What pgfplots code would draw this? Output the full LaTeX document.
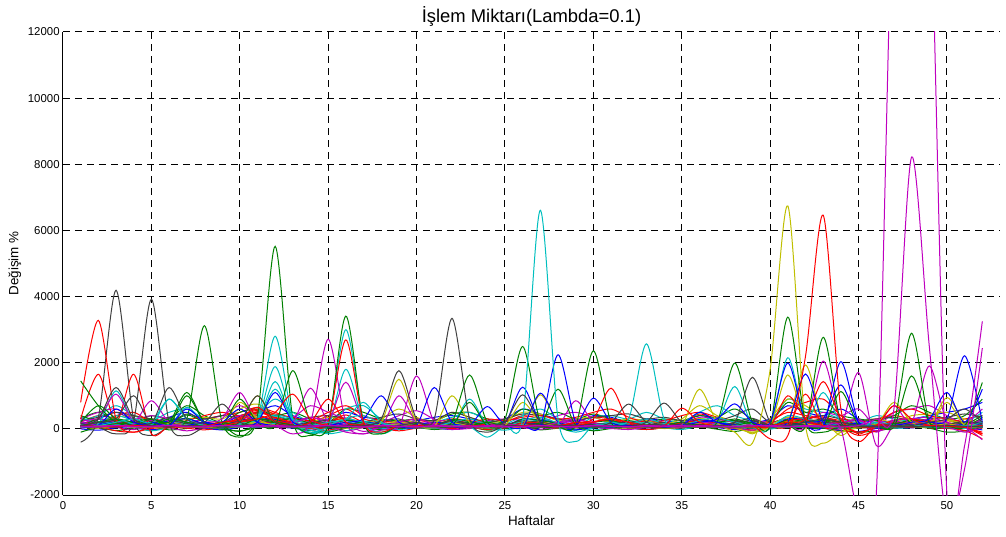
\documentclass[border=0pt]{standalone}
\usepackage{pgfplots}
\pgfplotsset{compat=1.18}
\usepackage{fontspec}
\setmainfont{Liberation Sans}

% MATLAB default line colours
\definecolor{mb}{rgb}{0,0,1}
\definecolor{mg}{rgb}{0,0.5,0}
\definecolor{mr}{rgb}{1,0,0}
\definecolor{mc}{rgb}{0,0.75,0.75}
\definecolor{mm}{rgb}{0.75,0,0.75}
\definecolor{my}{rgb}{0.75,0.75,0}
\definecolor{mk}{rgb}{0.25,0.25,0.25}

% one series per inline table: weekly values, week = row number
\pgfplotsset{/pgfplots/table/wk/.style={row sep=\\,header=false,x expr=\coordindex+1,y index=0}}

\begin{document}
\begin{tikzpicture}
\path[use as bounding box] (-31.5pt,-20.5pt) rectangle (471.5pt,247.5pt);
\begin{axis}[
  at={(0,0)}, anchor=south west,
  scale only axis, width=468.5pt, height=231.5pt,
  xmin=0, xmax=53, ymin=-2000, ymax=12000,
  axis x line*=bottom, axis y line*=left,
  axis line style={black, line width=0.5pt},
  xtick={0,5,...,50}, ytick={-2000,0,2000,4000,6000,8000,10000,12000},
  tick align=inside, major tick length=3pt, tick style={black, line width=0.5pt},
  grid=major, major grid style={black, line width=0.5pt, dash pattern=on 3.5pt off 2.5pt},
  scaled y ticks=false,
  tick label style={font=\fontsize{5.7}{6}\selectfont, /pgf/number format/assume math mode=true, /pgf/number format/1000 sep={}},
  xticklabel style={anchor=north, inner sep=0pt, yshift=-2.95pt},
  yticklabel style={anchor=east, inner sep=0pt, xshift=-1.5pt},
  title={İşlem Miktarı(Lambda=0.1)},
  every axis title/.style={font=\fontsize{9.2}{11}\selectfont, at={(axis description cs:0.5,1)}, anchor=base, yshift=4.65pt, inner sep=0pt},
  xlabel={Haftalar},
  xlabel style={font=\fontsize{6.7}{8}\selectfont, at={([yshift=-15.4pt]axis description cs:0.5,0)}, anchor=base, inner sep=0pt},
  ylabel={Değişim \%},
  ylabel style={font=\fontsize{6.7}{8}\selectfont, at={([xshift=-22.25pt]axis description cs:0,0.5)}, anchor=base, inner sep=0pt},
  every axis plot/.append style={line width=0.5pt, smooth, mark=none},
]
% ---- mid-level weekly series ----
\addplot[mr] table[wk]{200\\400\\300\\150\\300\\200\\150\\300\\400\\500\\650\\500\\300\\200\\400\\600\\300\\200\\150\\250\\200\\300\\250\\150\\200\\400\\300\\200\\250\\350\\300\\200\\250\\150\\200\\450\\300\\200\\150\\250\\500\\400\\350\\250\\200\\300\\400\\300\\250\\200\\300\\400\\};
\addplot[mb] table[wk]{150\\300\\500\\250\\200\\350\\500\\200\\150\\400\\500\\700\\400\\250\\300\\500\\350\\300\\200\\250\\350\\400\\300\\200\\300\\600\\450\\300\\200\\400\\350\\200\\300\\250\\200\\400\\300\\250\\200\\300\\700\\500\\400\\600\\300\\200\\250\\300\\400\\500\\600\\800\\};
\addplot[mg] table[wk]{300\\500\\250\\200\\400\\300\\700\\400\\200\\500\\600\\400\\500\\300\\200\\600\\500\\300\\250\\300\\250\\450\\500\\300\\200\\600\\400\\500\\300\\450\\300\\250\\200\\300\\250\\400\\350\\600\\300\\200\\800\\500\\600\\400\\300\\250\\400\\700\\500\\300\\400\\900\\};
\addplot[mc] table[wk]{250\\400\\700\\400\\250\\500\\600\\300\\200\\300\\450\\900\\500\\200\\100\\600\\700\\300\\200\\150\\200\\350\\500\\250\\150\\400\\600\\300\\100\\350\\400\\300\\500\\300\\200\\500\\700\\400\\250\\200\\900\\600\\500\\300\\200\\400\\300\\250\\400\\300\\200\\500\\};
\addplot[mm] table[wk]{300\\500\\600\\300\\400\\300\\200\\300\\400\\700\\400\\300\\350\\700\\500\\300\\150\\200\\400\\550\\300\\200\\150\\250\\300\\250\\200\\400\\500\\350\\200\\150\\250\\200\\150\\350\\300\\200\\250\\200\\300\\250\\500\\400\\600\\100\\500\\600\\700\\400\\200\\600\\};
\addplot[my] table[wk]{150\\200\\350\\400\\250\\200\\300\\350\\300\\600\\750\\400\\250\\200\\350\\250\\200\\300\\600\\350\\200\\500\\350\\200\\250\\500\\450\\250\\300\\350\\200\\300\\250\\150\\300\\700\\400\\200\\-150\\300\\900\\700\\300\\-200\\200\\300\\200\\400\\450\\500\\300\\200\\};
\addplot[mk] table[wk]{250\\350\\500\\400\\300\\200\\450\\300\\400\\350\\500\\400\\250\\350\\400\\300\\200\\350\\450\\300\\250\\500\\350\\200\\300\\450\\400\\300\\250\\350\\400\\450\\300\\350\\250\\300\\250\\400\\600\\200\\350\\300\\400\\300\\250\\300\\350\\250\\300\\350\\450\\350\\};
\addplot[mr] table[wk]{100\\200\\400\\500\\200\\150\\250\\400\\500\\400\\600\\450\\350\\250\\500\\700\\400\\250\\200\\300\\150\\250\\200\\300\\250\\350\\400\\300\\350\\500\\600\\350\\200\\250\\400\\500\\350\\200\\150\\200\\600\\800\\900\\400\\100\\200\\500\\600\\400\\300\\200\\100\\};
% ---- low-level weekly series ----
\addplot[mb] table[wk]{60\\120\\90\\200\\150\\80\\110\\60\\140\\220\\180\\120\\90\\60\\150\\100\\70\\130\\80\\60\\90\\150\\110\\70\\60\\120\\180\\90\\60\\40\\80\\120\\60\\90\\150\\200\\110\\70\\50\\90\\160\\120\\80\\140\\60\\90\\110\\70\\130\\90\\60\\150\\};
\addplot[mg] table[wk]{200\\90\\150\\60\\110\\180\\90\\40\\70\\130\\250\\160\\100\\220\\140\\60\\90\\40\\110\\60\\30\\80\\120\\90\\60\\180\\140\\70\\40\\90\\110\\60\\40\\80\\130\\250\\170\\120\\60\\20\\130\\180\\240\\150\\100\\60\\120\\180\\90\\60\\110\\300\\};
\addplot[mr] table[wk]{100\\300\\150\\80\\-50\\60\\120\\200\\140\\260\\480\\350\\200\\120\\90\\150\\80\\60\\100\\40\\60\\90\\140\\60\\30\\110\\150\\120\\80\\200\\260\\140\\60\\80\\120\\210\\130\\60\\80\\40\\180\\260\\220\\120\\-100\\40\\160\\200\\90\\70\\40\\-150\\};
\addplot[mc] table[wk]{350\\180\\260\\120\\70\\140\\210\\90\\60\\120\\200\\380\\260\\150\\-80\\110\\160\\90\\70\\60\\50\\130\\220\\100\\40\\180\\260\\140\\60\\-40\\90\\200\\150\\80\\40\\160\\220\\140\\90\\50\\210\\190\\150\\80\\200\\120\\60\\90\\140\\60\\80\\180\\};
\addplot[mm] table[wk]{150\\200\\120\\60\\260\\110\\80\\140\\90\\300\\160\\90\\120\\220\\160\\-60\\40\\110\\180\\140\\70\\90\\60\\130\\80\\100\\60\\200\\150\\100\\80\\60\\120\\90\\60\\170\\110\\70\\120\\90\\140\\80\\100\\60\\180\\-80\\220\\160\\300\\120\\60\\200\\};
\addplot[my] table[wk]{80\\60\\160\\220\\110\\60\\90\\180\\120\\300\\420\\200\\110\\90\\150\\80\\120\\60\\270\\180\\90\\220\\130\\60\\90\\160\\220\\110\\70\\90\\60\\120\\80\\40\\110\\230\\150\\60\\-120\\80\\260\\300\\180\\-60\\70\\120\\60\\140\\180\\260\\90\\60\\};
\addplot[mk] table[wk]{120\\150\\260\\180\\90\\40\\130\\80\\200\\160\\210\\140\\80\\150\\110\\60\\40\\120\\90\\70\\60\\110\\80\\50\\120\\170\\90\\60\\100\\140\\110\\150\\90\\60\\80\\140\\100\\180\\240\\60\\110\\80\\140\\90\\60\\130\\110\\60\\90\\150\\200\\120\\};
\addplot[mb] table[wk]{20\\80\\140\\60\\40\\90\\150\\60\\30\\80\\140\\210\\150\\90\\40\\60\\120\\160\\80\\50\\130\\90\\40\\60\\110\\190\\140\\80\\60\\120\\90\\40\\60\\110\\80\\260\\170\\90\\50\\40\\190\\130\\80\\160\\110\\40\\20\\60\\120\\80\\140\\220\\};
\addplot[mg] table[wk]{400\\220\\100\\150\\80\\200\\320\\120\\40\\200\\330\\240\\130\\80\\100\\260\\170\\90\\60\\120\\80\\140\\200\\110\\60\\220\\150\\90\\120\\70\\50\\90\\120\\80\\60\\140\\200\\260\\120\\30\\240\\170\\120\\200\\140\\90\\160\\220\\110\\60\\130\\400\\};
\addplot[mr] table[wk]{160\\100\\60\\120\\200\\140\\80\\60\\110\\350\\560\\300\\140\\60\\200\\330\\160\\80\\50\\90\\140\\80\\60\\100\\150\\90\\130\\80\\190\\140\\90\\60\\100\\150\\80\\180\\120\\90\\60\\110\\260\\350\\300\\170\\60\\120\\200\\150\\100\\70\\30\\-100\\};
\addplot[mc] table[wk]{60\\130\\220\\150\\90\\250\\140\\60\\80\\140\\180\\300\\150\\40\\-100\\160\\240\\110\\60\\80\\120\\160\\90\\60\\140\\110\\300\\130\\-50\\160\\140\\90\\200\\110\\60\\300\\190\\110\\80\\40\\360\\200\\130\\90\\60\\160\\120\\90\\130\\100\\60\\140\\};
\addplot[mm] table[wk]{300\\140\\80\\110\\160\\90\\140\\200\\80\\180\\140\\110\\200\\350\\190\\120\\-80\\60\\140\\200\\130\\60\\100\\90\\140\\80\\120\\160\\260\\180\\70\\120\\60\\90\\110\\160\\120\\80\\60\\130\\150\\110\\300\\200\\250\\60\\180\\140\\220\\110\\-60\\90\\};
\addplot[my] table[wk]{60\\110\\80\\130\\90\\160\\120\\80\\160\\240\\280\\190\\120\\80\\140\\90\\60\\110\\200\\130\\80\\170\\110\\70\\100\\220\\190\\80\\120\\150\\90\\60\\120\\80\\90\\320\\150\\70\\-60\\120\\350\\260\\120\\60\\90\\140\\120\\200\\160\\280\\150\\80\\};
\addplot[mk] table[wk]{90\\60\\130\\230\\110\\250\\160\\80\\120\\180\\260\\180\\100\\130\\200\\120\\80\\140\\160\\90\\110\\220\\120\\70\\80\\160\\130\\90\\70\\110\\200\\180\\100\\150\\90\\110\\70\\140\\260\\80\\120\\90\\180\\120\\70\\100\\160\\120\\80\\100\\180\\140\\};
\addplot[mb] table[wk]{180\\130\\200\\120\\150\\240\\300\\160\\110\\260\\330\\280\\180\\120\\90\\140\\200\\150\\90\\130\\200\\140\\90\\150\\100\\300\\260\\180\\110\\160\\90\\130\\80\\110\\160\\280\\190\\120\\90\\60\\300\\280\\200\\130\\160\\90\\70\\110\\190\\140\\110\\160\\};
\addplot[mg] table[wk]{50\\300\\180\\90\\60\\140\\420\\200\\60\\-80\\120\\200\\320\\160\\60\\110\\200\\90\\80\\160\\100\\280\\220\\90\\60\\300\\250\\170\\90\\200\\240\\130\\60\\90\\100\\200\\170\\300\\150\\40\\280\\220\\260\\200\\80\\110\\150\\260\\200\\60\\40\\350\\};
\addplot[mr] table[wk]{40\\90\\160\\210\\120\\80\\60\\140\\200\\260\\520\\330\\180\\100\\200\\420\\200\\90\\60\\120\\60\\100\\80\\140\\90\\170\\200\\120\\160\\220\\300\\130\\70\\110\\180\\250\\160\\80\\60\\70\\240\\310\\360\\190\\30\\80\\260\\300\\200\\120\\60\\-200\\};
\addplot[mc] table[wk]{120\\200\\400\\250\\120\\300\\200\\90\\60\\160\\250\\420\\300\\110\\-60\\300\\400\\160\\90\\60\\80\\200\\300\\140\\60\\250\\350\\170\\-30\\110\\200\\150\\300\\160\\60\\260\\330\\200\\120\\60\\400\\300\\200\\110\\60\\200\\130\\100\\200\\140\\70\\200\\};
\addplot[mm] table[wk]{220\\300\\200\\90\\150\\110\\70\\130\\180\\400\\250\\140\\180\\330\\260\\120\\60\\90\\200\\300\\150\\80\\60\\110\\140\\100\\80\\200\\300\\160\\80\\60\\100\\70\\90\\200\\150\\90\\120\\80\\160\\140\\200\\160\\300\\-100\\260\\300\\350\\200\\80\\300\\};
\addplot[mk] table[wk]{160\\80\\200\\300\\160\\350\\200\\100\\140\\220\\300\\250\\130\\180\\260\\190\\120\\220\\300\\110\\90\\260\\150\\80\\130\\240\\200\\110\\90\\140\\160\\200\\120\\200\\100\\130\\90\\200\\320\\100\\170\\120\\200\\130\\90\\110\\150\\90\\110\\130\\220\\160\\};
\addplot[mb] table[wk]{0\\-40\\30\\60\\-20\\40\\90\\20\\-30\\50\\110\\60\\20\\-40\\30\\70\\40\\-10\\20\\50\\30\\-20\\40\\60\\10\\80\\60\\20\\-30\\40\\60\\20\\-10\\30\\60\\90\\40\\-20\\10\\30\\80\\50\\20\\-60\\-80\\10\\40\\30\\60\\40\\20\\-30\\};
\addplot[mg] table[wk]{-100\\30\\-50\\20\\60\\-30\\10\\80\\-20\\-60\\40\\80\\30\\-50\\-100\\20\\60\\-30\\10\\40\\-20\\30\\60\\-40\\10\\50\\-30\\20\\40\\-60\\10\\30\\-20\\40\\20\\60\\-10\\-80\\20\\10\\40\\80\\20\\-40\\-100\\-60\\30\\50\\20\\-100\\-60\\100\\};
\addplot[mr] table[wk]{30\\60\\-60\\-100\\10\\50\\20\\-30\\40\\90\\200\\150\\60\\10\\-40\\80\\120\\30\\-60\\20\\40\\10\\50\\-20\\30\\90\\60\\20\\40\\80\\100\\40\\-20\\30\\60\\110\\50\\10\\-30\\20\\120\\160\\100\\30\\-200\\-60\\40\\80\\30\\10\\-50\\-300\\};
\addplot[mc] table[wk]{100\\60\\120\\40\\-60\\30\\90\\40\\20\\60\\100\\160\\80\\-40\\-150\\-60\\60\\20\\-20\\30\\10\\50\\80\\20\\-40\\60\\100\\40\\-100\\30\\70\\40\\80\\30\\-20\\80\\120\\50\\20\\-10\\110\\90\\60\\20\\30\\60\\20\\40\\80\\30\\10\\60\\};
\addplot[mm] table[wk]{50\\90\\40\\-20\\60\\30\\-60\\20\\70\\130\\80\\40\\60\\120\\80\\-100\\-150\\-40\\60\\90\\40\\-20\\10\\50\\80\\30\\-10\\60\\100\\40\\10\\-20\\40\\20\\30\\90\\60\\10\\-40\\50\\70\\30\\100\\60\\110\\-60\\40\\90\\120\\60\\-100\\40\\};
\addplot[my] table[wk]{40\\20\\60\\90\\40\\30\\70\\100\\60\\150\\200\\110\\50\\30\\60\\20\\40\\80\\150\\90\\30\\110\\60\\20\\50\\100\\90\\30\\60\\70\\40\\20\\60\\10\\50\\180\\80\\20\\-100\\40\\220\\150\\60\\-100\\40\\70\\30\\100\\80\\150\\60\\30\\};
% ---- series with pronounced weekly peaks ----
\addplot[mk] table[wk]{-400\\350\\4190\\300\\-200\\50\\80\\40\\30\\60\\100\\80\\50\\40\\30\\60\\50\\40\\60\\30\\40\\60\\50\\30\\40\\60\\50\\40\\30\\50\\60\\40\\50\\30\\40\\60\\50\\40\\30\\60\\50\\40\\60\\30\\50\\40\\60\\50\\40\\30\\50\\40\\};
\addplot[mk] table[wk]{100\\50\\-150\\250\\3920\\200\\-200\\50\\100\\80\\60\\50\\80\\60\\40\\50\\80\\60\\40\\50\\70\\60\\40\\50\\60\\80\\60\\40\\50\\70\\60\\50\\40\\60\\80\\60\\50\\40\\60\\50\\40\\60\\50\\70\\60\\50\\40\\60\\70\\50\\60\\80\\};
\addplot[mr] table[wk]{800\\3280\\300\\-100\\80\\60\\40\\100\\80\\60\\120\\90\\60\\40\\80\\60\\50\\70\\40\\60\\80\\60\\40\\50\\70\\60\\90\\60\\40\\50\\60\\80\\40\\60\\70\\50\\40\\60\\80\\50\\60\\90\\70\\40\\60\\50\\70\\40\\60\\80\\50\\40\\};
\addplot[mr] table[wk]{300\\1650\\200\\1650\\-150\\80\\60\\120\\90\\200\\400\\250\\150\\80\\60\\100\\70\\50\\80\\60\\40\\70\\90\\60\\80\\100\\60\\50\\70\\90\\60\\40\\50\\80\\70\\60\\50\\70\\40\\60\\80\\1050\\60\\50\\-100\\40\\70\\60\\50\\40\\60\\30\\};
\addplot[mg] table[wk]{100\\80\\60\\100\\150\\200\\300\\3120\\200\\-250\\100\\80\\60\\90\\70\\50\\80\\60\\40\\70\\60\\50\\80\\60\\40\\70\\50\\60\\80\\60\\40\\50\\70\\60\\50\\80\\60\\40\\60\\70\\50\\60\\80\\70\\40\\60\\50\\70\\60\\80\\50\\60\\};
\addplot[mg] table[wk]{80\\100\\150\\200\\300\\100\\60\\80\\100\\-200\\400\\5520\\300\\-200\\80\\60\\100\\70\\50\\80\\60\\90\\70\\50\\60\\80\\60\\40\\70\\60\\50\\80\\60\\70\\40\\60\\80\\50\\60\\70\\60\\50\\70\\80\\60\\50\\70\\60\\40\\60\\50\\70\\};
\addplot[mc] table[wk]{100\\200\\300\\150\\80\\120\\90\\60\\100\\200\\300\\2800\\300\\-150\\60\\100\\80\\60\\90\\70\\50\\80\\60\\90\\70\\60\\80\\60\\50\\70\\60\\80\\90\\70\\60\\80\\100\\70\\60\\80\\70\\60\\90\\80\\60\\70\\60\\80\\70\\60\\80\\70\\};
\addplot[mc] table[wk]{60\\150\\1150\\200\\100\\900\\300\\100\\60\\150\\250\\1880\\250\\-130\\100\\300\\200\\100\\60\\80\\90\\70\\60\\80\\100\\70\\60\\80\\90\\60\\70\\100\\80\\60\\70\\90\\80\\60\\70\\90\\80\\100\\70\\60\\80\\90\\70\\60\\80\\70\\60\\90\\};
\addplot[mc] table[wk]{40\\80\\100\\60\\120\\100\\650\\200\\80\\120\\200\\1430\\200\\-100\\60\\1800\\200\\-100\\80\\100\\60\\90\\900\\100\\60\\80\\100\\70\\60\\90\\80\\60\\100\\70\\90\\80\\70\\60\\90\\80\\70\\90\\80\\60\\70\\100\\80\\90\\60\\70\\80\\60\\};
\addplot[mc] table[wk]{80\\60\\120\\90\\100\\80\\120\\100\\90\\150\\250\\1200\\300\\60\\200\\3000\\250\\-150\\60\\90\\80\\100\\70\\60\\90\\80\\60\\100\\80\\70\\60\\90\\80\\70\\100\\60\\200\\1280\\100\\60\\2150\\300\\1100\\200\\90\\80\\70\\60\\90\\80\\100\\70\\};
\addplot[mm] table[wk]{100\\300\\1050\\200\\100\\80\\100\\200\\300\\1100\\200\\100\\200\\1230\\200\\100\\80\\60\\1000\\200\\80\\100\\60\\90\\80\\100\\60\\80\\850\\200\\100\\60\\80\\90\\70\\100\\80\\60\\90\\100\\80\\100\\90\\60\\1700\\-500\\100\\80\\90\\100\\80\\60\\};
\addplot[mm] table[wk]{200\\100\\80\\150\\850\\200\\100\\80\\60\\100\\150\\100\\-150\\200\\2710\\200\\-150\\100\\60\\1600\\200\\60\\100\\90\\80\\70\\100\\90\\80\\60\\70\\80\\100\\60\\90\\80\\100\\70\\60\\80\\100\\80\\2050\\200\\100\\60\\700\\200\\1900\\200\\100\\80\\};
\addplot[mm] table[wk]{60\\80\\100\\60\\100\\80\\60\\100\\80\\100\\120\\100\\80\\90\\200\\1410\\200\\80\\100\\60\\80\\100\\60\\80\\100\\90\\80\\60\\100\\80\\60\\80\\90\\100\\80\\60\\90\\80\\100\\60\\100\\60\\80\\90\\100\\80\\60\\90\\80\\100\\60\\-330\\};
\addplot[my] table[wk]{60\\80\\100\\60\\80\\100\\60\\80\\100\\200\\1000\\200\\80\\60\\100\\80\\60\\200\\1500\\200\\80\\1000\\200\\80\\100\\800\\200\\100\\60\\80\\100\\80\\60\\90\\100\\1200\\200\\-100\\-430\\1800\\6740\\100\\-430\\-100\\100\\80\\60\\100\\80\\800\\100\\80\\};
\addplot[my] table[wk]{80\\60\\100\\80\\60\\100\\80\\60\\100\\800\\300\\100\\80\\60\\100\\80\\60\\100\\80\\100\\60\\80\\100\\60\\80\\100\\1030\\200\\80\\60\\100\\80\\60\\100\\80\\60\\100\\80\\60\\100\\1630\\200\\100\\80\\60\\100\\800\\200\\100\\946\\200\\100\\};
\addplot[my] table[wk]{60\\100\\80\\60\\100\\80\\60\\100\\80\\60\\200\\100\\80\\60\\100\\80\\60\\100\\80\\60\\100\\80\\60\\100\\80\\60\\100\\80\\60\\100\\80\\60\\100\\80\\60\\100\\80\\60\\100\\80\\200\\1930\\200\\80\\60\\100\\80\\60\\100\\80\\60\\100\\};
\addplot[mg] table[wk]{1450\\700\\200\\100\\300\\200\\1100\\200\\100\\900\\200\\100\\1760\\200\\100\\80\\60\\100\\80\\60\\100\\200\\1630\\200\\100\\80\\60\\100\\80\\60\\80\\100\\60\\80\\100\\60\\80\\100\\60\\80\\100\\80\\60\\1130\\100\\80\\60\\1600\\200\\100\\80\\1400\\};
\addplot[mg] table[wk]{100\\200\\300\\200\\100\\300\\200\\100\\200\\100\\300\\200\\100\\-150\\100\\3410\\200\\-150\\100\\80\\60\\80\\100\\200\\300\\2490\\200\\100\\80\\60\\100\\80\\60\\100\\200\\100\\200\\1990\\200\\100\\200\\100\\80\\60\\100\\80\\200\\2890\\200\\100\\80\\60\\};
\addplot[mg] table[wk]{200\\700\\300\\100\\200\\100\\1000\\200\\100\\80\\100\\80\\60\\100\\80\\60\\100\\80\\60\\100\\80\\60\\100\\80\\60\\100\\80\\60\\100\\2360\\200\\100\\80\\60\\100\\80\\60\\100\\200\\100\\3380\\200\\-100\\80\\60\\100\\80\\60\\100\\80\\60\\100\\};
\addplot[mg] table[wk]{100\\80\\60\\100\\80\\60\\100\\80\\60\\100\\80\\60\\100\\80\\60\\100\\80\\60\\100\\80\\60\\100\\800\\80\\60\\100\\80\\1200\\100\\80\\60\\100\\80\\60\\100\\80\\60\\100\\80\\60\\100\\80\\2770\\200\\100\\80\\60\\100\\80\\60\\100\\80\\};
\addplot[mb] table[wk]{60\\100\\600\\200\\100\\80\\100\\200\\100\\80\\200\\1100\\200\\100\\80\\60\\100\\80\\60\\100\\1250\\200\\100\\80\\60\\100\\80\\2240\\200\\100\\80\\60\\100\\80\\60\\100\\80\\60\\100\\200\\1990\\200\\100\\2030\\200\\100\\80\\60\\200\\300\\2210\\200\\};
\addplot[mb] table[wk]{80\\60\\100\\80\\200\\100\\600\\200\\100\\80\\60\\100\\80\\60\\100\\200\\300\\1000\\200\\100\\80\\60\\100\\674\\200\\1260\\200\\100\\80\\930\\200\\100\\80\\60\\100\\200\\300\\755\\200\\100\\200\\1660\\200\\100\\80\\60\\100\\200\\300\\1100\\200\\1200\\};
\addplot[mb] table[wk]{100\\80\\60\\100\\80\\60\\100\\80\\200\\600\\200\\100\\80\\60\\100\\80\\60\\100\\80\\60\\100\\80\\60\\100\\80\\60\\1080\\200\\100\\80\\60\\100\\80\\60\\100\\500\\200\\100\\80\\60\\100\\200\\300\\1330\\200\\100\\80\\60\\100\\80\\60\\100\\};
\addplot[mr] table[wk]{80\\60\\100\\80\\60\\100\\80\\60\\100\\80\\100\\80\\60\\100\\200\\2690\\200\\-100\\100\\80\\60\\100\\80\\60\\100\\80\\60\\100\\200\\300\\1230\\200\\100\\80\\60\\100\\80\\60\\100\\-300\\-200\\2200\\6460\\600\\-380\\100\\80\\60\\100\\80\\60\\100\\};
\addplot[mc] table[wk]{80\\60\\100\\80\\60\\100\\80\\60\\100\\80\\60\\100\\80\\60\\100\\80\\60\\100\\80\\60\\100\\80\\60\\-250\\100\\300\\6610\\300\\-380\\100\\80\\60\\100\\80\\60\\100\\80\\60\\100\\80\\60\\100\\80\\60\\100\\80\\60\\100\\80\\60\\100\\80\\};
\addplot[mc] table[wk]{60\\100\\200\\300\\200\\900\\300\\100\\80\\60\\100\\80\\60\\100\\200\\300\\800\\200\\100\\80\\60\\100\\80\\60\\100\\80\\60\\100\\80\\60\\200\\300\\2570\\300\\100\\80\\60\\100\\80\\60\\100\\80\\60\\100\\80\\60\\100\\80\\60\\100\\80\\60\\};
\addplot[mr] table[wk]{80\\60\\100\\80\\60\\100\\80\\60\\100\\200\\300\\500\\1050\\300\\100\\80\\60\\100\\80\\60\\100\\80\\60\\100\\80\\60\\100\\80\\60\\100\\80\\60\\100\\80\\625\\200\\100\\80\\60\\100\\200\\300\\1430\\300\\-150\\100\\80\\60\\100\\80\\60\\100\\};
\addplot[mr] table[wk]{100\\80\\60\\100\\80\\60\\100\\80\\200\\300\\650\\200\\100\\200\\900\\200\\100\\80\\60\\100\\80\\60\\100\\80\\60\\100\\80\\60\\100\\200\\300\\200\\100\\80\\60\\100\\80\\60\\100\\80\\1000\\300\\100\\80\\60\\100\\700\\300\\100\\80\\60\\-150\\};
\addplot[mk] table[wk]{100\\300\\1250\\300\\100\\80\\100\\80\\60\\200\\1000\\200\\100\\80\\60\\100\\80\\60\\100\\200\\300\\3340\\300\\-100\\100\\80\\60\\100\\80\\60\\200\\750\\200\\100\\80\\60\\100\\200\\1560\\200\\100\\80\\60\\100\\80\\60\\100\\80\\60\\100\\80\\60\\};
\addplot[mk] table[wk]{80\\200\\300\\1000\\200\\1250\\300\\200\\750\\200\\100\\80\\60\\100\\80\\60\\100\\300\\1760\\300\\100\\80\\60\\100\\200\\1030\\200\\100\\80\\60\\100\\80\\200\\780\\200\\100\\80\\60\\100\\80\\100\\200\\300\\200\\100\\80\\60\\100\\200\\300\\600\\200\\};
\addplot[mm] table[wk]{80\\60\\100\\80\\60\\100\\80\\60\\100\\80\\60\\100\\80\\60\\100\\80\\60\\100\\80\\60\\100\\80\\60\\100\\80\\60\\100\\80\\60\\100\\80\\60\\100\\80\\60\\100\\80\\60\\100\\80\\60\\100\\80\\60\\100\\300\\600\\8220\\2500\\-2800\\-1200\\2440\\};
\addplot[mm] table[wk]{60\\80\\100\\60\\80\\100\\60\\80\\100\\90\\100\\80\\60\\90\\100\\80\\60\\90\\70\\80\\60\\80\\90\\70\\60\\80\\100\\70\\60\\90\\80\\70\\60\\90\\100\\70\\60\\80\\90\\100\\80\\70\\60\\0\\-2600\\-2000\\18000\\30000\\18000\\-2000\\-500\\3250\\};
\end{axis}
\end{tikzpicture}
\end{document}
